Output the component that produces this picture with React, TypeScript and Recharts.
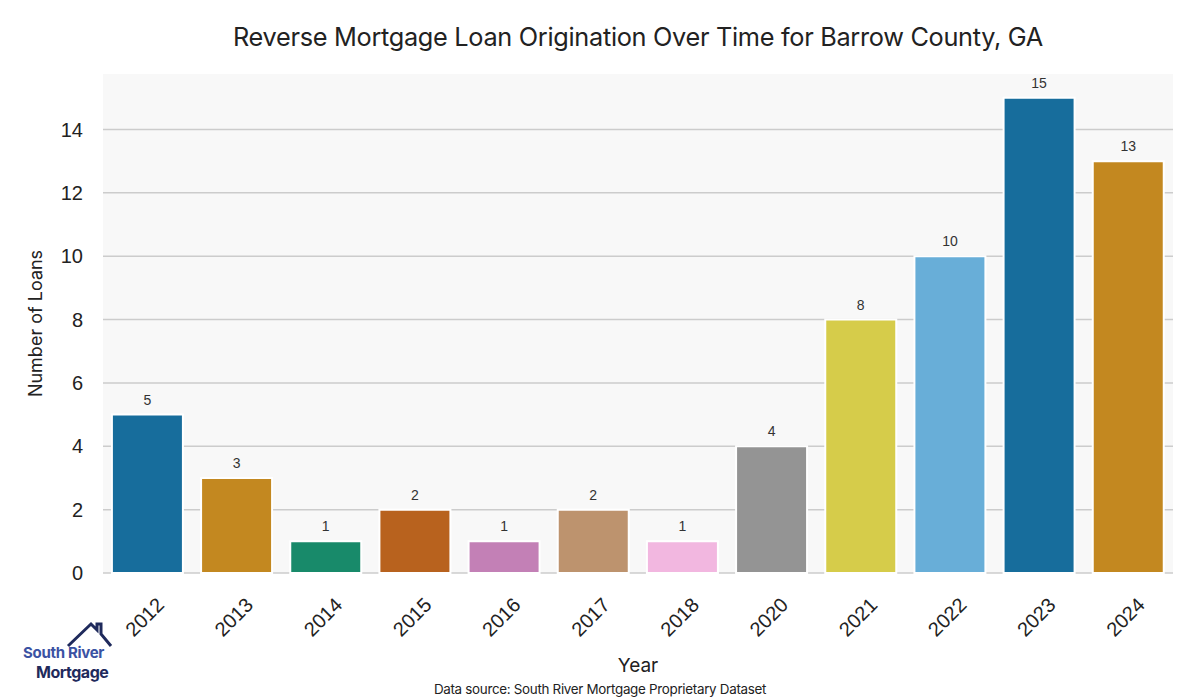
import { BarChart, Bar, XAxis, YAxis, CartesianGrid, Cell, LabelList } from "recharts";

const years = ["2012", "2013", "2014", "2015", "2016", "2017", "2018", "2020", "2021", "2022", "2023", "2024"];
const loans = [5, 3, 1, 2, 1, 2, 1, 4, 8, 10, 15, 13];
const colors = [
  "#176d9c", "#c38820", "#188a6a", "#b8621e", "#c380b6", "#bd936e",
  "#f2b7e0", "#949494", "#d6cc4a", "#68aed8", "#176d9c", "#c38820",
];
const yTicks = [0, 2, 4, 6, 8, 10, 12, 14];

const data = years.map((y, i) => ({ year: y, loans: loans[i] }));

// plot spans y 74..573 for domain 0..15.75
const gridRows = (props: any) => {
  const { offset } = props;
  const top = offset.top;
  const h = offset.height;
  return yTicks.map((t) => top + h - (t / 15.75) * h);
};

const YearTick = (props: any) => {
  const { x, y, payload } = props;
  return (
    <g transform={`translate(${x - 3},${y + 36}) rotate(-45)`}>
      <text
        x={0}
        y={0}
        textAnchor="middle"
        dominantBaseline="central"
        fontSize={20}
        fontFamily="Liberation Sans, Arial, sans-serif"
        fill="#222"
      >
        {payload.value}
      </text>
    </g>
  );
};

export default function App() {
  return (
    <div style={{ position: "absolute", left: 0, top: 0, width: 1200, height: 700, background: "#fff" }}>
      <div
        style={{
          position: "absolute",
          left: 0,
          width: 1276,
          top: 21,
          textAlign: "center",
          fontFamily: "Inter, sans-serif",
          fontSize: 25.3,
          color: "#222",
          letterSpacing: -0.3,
        }}
      >
        Reverse Mortgage Loan Origination Over Time for Barrow County, GA
      </div>
      <BarChart
        width={1200}
        height={700}
        data={data}
        margin={{ top: 74, right: 27, left: 0, bottom: 0 }}
        barCategoryGap="10%"
      >
        <CartesianGrid
          vertical={false}
          fill="#f8f8f8"
          stroke="#cccccc"
          strokeWidth={1.5}
          horizontalCoordinatesGenerator={gridRows}
        />
        <XAxis
          dataKey="year"
          axisLine={false}
          tickLine={false}
          interval={0}
          tick={<YearTick />}
          height={127}
          label={{
            value: "Year",
            position: "insideBottom",
            offset: 28,
            fontSize: 19,
            fontFamily: "Inter, sans-serif",
            fill: "#222",
          }}
        />
        <YAxis
          width={103}
          domain={[0, 15.75]}
          ticks={yTicks}
          axisLine={false}
          tickLine={false}
          tickSize={0}
          tickMargin={20}
          tick={{ fontSize: 20, fill: "#222", fontFamily: "Liberation Sans, Arial, sans-serif" }}
          label={{
            value: "Number of Loans",
            angle: -90,
            position: "insideLeft",
            offset: 36,
            style: { textAnchor: "middle" },
            fontSize: 18,
            fontFamily: "Inter, sans-serif",
            fill: "#222",
          }}
        />
        <Bar dataKey="loans" stroke="#ffffff" strokeWidth={2} isAnimationActive={false}>
          {data.map((d, i) => (
            <Cell key={d.year} fill={colors[i]} />
          ))}
          <LabelList
            dataKey="loans"
            position="top"
            offset={10}
            fontSize={14}
            fill="#333"
            fontFamily="Liberation Sans, Arial, sans-serif"
          />
        </Bar>
      </BarChart>
      <div
        style={{
          position: "absolute",
          left: 0,
          width: 1200,
          top: 681,
          textAlign: "center",
          fontFamily: "Inter, sans-serif",
          fontSize: 13.4,
          color: "#222",
          letterSpacing: -0.3,
        }}
      >
        Data source: South River Mortgage Proprietary Dataset
      </div>
      <svg style={{ position: "absolute", left: 0, top: 600 }} width={140} height={100}>
        <polyline
          points="68,46 91,24 97,30 97,24 101,24 101,34 111,46"
          fill="none"
          stroke="#1f2a5c"
          strokeWidth={3}
          strokeLinejoin="miter"
        />
        <text x={23} y={58} fontSize={15} fontWeight={700} fill="#3b52a3" fontFamily="Inter, sans-serif" letterSpacing={-0.3}>
          South River
        </text>
        <text x={36} y={78} fontSize={16} fontWeight={700} fill="#1f2a5c" fontFamily="Inter, sans-serif" letterSpacing={-0.5}>
          Mortgage
        </text>
      </svg>
    </div>
  );
}
